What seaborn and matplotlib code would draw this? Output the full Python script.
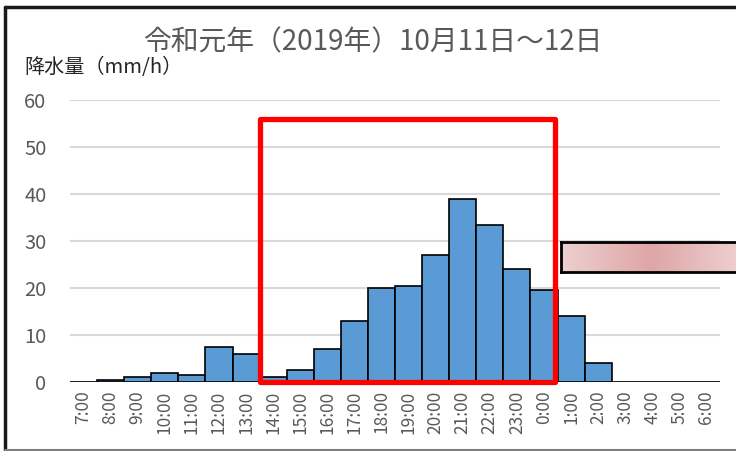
import numpy as np
import pandas as pd
import seaborn as sns
import matplotlib.pyplot as plt
from matplotlib.patches import Rectangle
from matplotlib.lines import Line2D

# hourly rainfall, 2019-10-11 7:00 to 10-12 6:00
hours = ['7:00', '8:00', '9:00', '10:00', '11:00', '12:00', '13:00', '14:00',
         '15:00', '16:00', '17:00', '18:00', '19:00', '20:00', '21:00', '22:00',
         '23:00', '0:00', '1:00', '2:00', '3:00', '4:00', '5:00', '6:00']
rain = [0, 0.5, 1.0, 2.0, 1.5, 7.5, 6.0, 1.0,
        2.5, 7.0, 13.0, 20.0, 20.5, 27.0, 39.0, 33.5,
        24.0, 19.5, 14.0, 4.0, 0, 0, 0, 0]
# highlighted period (14:00 to 0:00)
box_start, box_end, box_top = '14:00', '0:00', 56

df = pd.DataFrame({'hour': hours, 'rain': rain})

sns.set_style('white')
plt.rcParams['font.family'] = ['Noto Sans CJK JP', 'DejaVu Sans']

W, H = 736, 451
fig = plt.figure(figsize=(W / 100, H / 100), dpi=100)
ax = fig.add_axes([70 / W, 1 - 382 / H, 650 / W, 282 / H])

sns.barplot(data=df, x='hour', y='rain', order=hours, color='#5b9bd5',
            saturation=1, width=1, edgecolor='black', linewidth=1.2, ax=ax, zorder=3)

ax.set_xlim(-0.5, len(hours) - 0.5)
ax.set_ylim(0, 60)
ax.set_yticks(range(0, 61, 10))
ax.yaxis.grid(True, color='#d9d9d9', linewidth=1.5, zorder=0)
ax.set_axisbelow(True)
sns.despine(ax=ax, left=True, bottom=True)
ax.tick_params(axis='both', length=0, colors='#595959')
ax.tick_params(axis='x', labelsize=12.5, rotation=90, pad=6)
ax.tick_params(axis='y', labelsize=14.5, pad=17)
ax.set_xlabel('')
ax.set_ylabel('')

# red frame around the heavy rain hours
i0 = hours.index(box_start) - 0.5
i1 = hours.index(box_end) + 0.5
ax.add_patch(Rectangle((i0, 0), i1 - i0 - 0.1, box_top, fill=False, edgecolor='#ff0000',
                       linewidth=3.8, joinstyle='round', clip_on=False, zorder=5))

fig.text(373 / W, 1 - 42 / H, '令和元年（2019年）10月11日～12日', ha='center', va='center',
         fontsize=20, color='#595959')
fig.text(24 / W, 1 - 68 / H, '降水量（mm/h）', ha='left', va='center',
         fontsize=14.5, color='#262626')

# pink label box at right edge (gradient)
bx = fig.add_axes([561 / W, 1 - 272 / H, 180 / W, 30 / H])
grad = np.abs(np.linspace(-1, 1, 200))[None, :]
bx.imshow(grad, aspect='auto', cmap=sns.blend_palette(['#dea6a6', '#eed0d0'], as_cmap=True),
          extent=[0, 1, 0, 1])
bx.set_xticks([])
bx.set_yticks([])
for s in bx.spines.values():
    s.set_linewidth(2)
    s.set_color('black')

# outer frame of the original chart
fig.add_artist(Line2D([5 / W, 5 / W], [1 - 7 / H, 1 - 450 / H], color='#1a1a1a', lw=2.5))
fig.add_artist(Line2D([5 / W, 1], [1 - 7 / H, 1 - 7 / H], color='#1a1a1a', lw=2.5))
fig.add_artist(Line2D([5 / W, 1], [1 - 450 / H, 1 - 450 / H], color='#7f7f7f', lw=1.5))

fig.savefig('out.png', dpi=100)
